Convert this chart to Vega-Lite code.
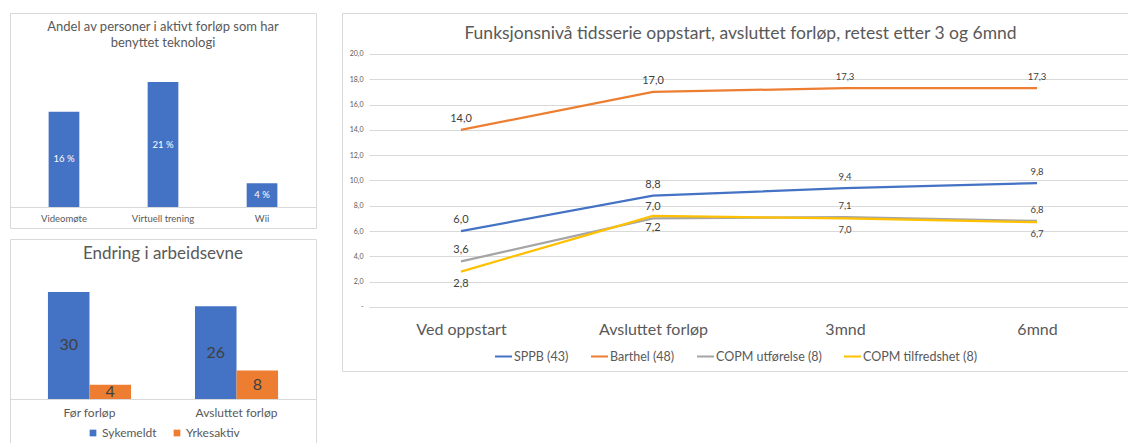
{
  "$schema": "https://vega.github.io/schema/vega-lite/v6.json",
  "padding": {"left": 9, "top": 12, "right": 0, "bottom": 0},
  "background": "white",
  "datasets": {
    "teknologi": [
      {"kategori": "Videomøte", "andel": 16},
      {"kategori": "Virtuell trening", "andel": 21},
      {"kategori": "Wii", "andel": 4}
    ],
    "arbeidsevne": [
      {"tid": "Før forløp", "status": "Sykemeldt", "antall": 30},
      {"tid": "Før forløp", "status": "Yrkesaktiv", "antall": 4},
      {"tid": "Avsluttet forløp", "status": "Sykemeldt", "antall": 26},
      {"tid": "Avsluttet forløp", "status": "Yrkesaktiv", "antall": 8}
    ],
    "funksjon": [
      {"serie": "SPPB (43)", "tid": "Ved oppstart", "verdi": 6.0},
      {"serie": "SPPB (43)", "tid": "Avsluttet forløp", "verdi": 8.8},
      {"serie": "SPPB (43)", "tid": "3mnd", "verdi": 9.4},
      {"serie": "SPPB (43)", "tid": "6mnd", "verdi": 9.8},
      {"serie": "Barthel (48)", "tid": "Ved oppstart", "verdi": 14.0},
      {"serie": "Barthel (48)", "tid": "Avsluttet forløp", "verdi": 17.0},
      {"serie": "Barthel (48)", "tid": "3mnd", "verdi": 17.3},
      {"serie": "Barthel (48)", "tid": "6mnd", "verdi": 17.3},
      {"serie": "COPM utførelse (8)", "tid": "Ved oppstart", "verdi": 3.6},
      {"serie": "COPM utførelse (8)", "tid": "Avsluttet forløp", "verdi": 7.0},
      {"serie": "COPM utførelse (8)", "tid": "3mnd", "verdi": 7.1},
      {"serie": "COPM utførelse (8)", "tid": "6mnd", "verdi": 6.8},
      {"serie": "COPM tilfredshet (8)", "tid": "Ved oppstart", "verdi": 2.8},
      {"serie": "COPM tilfredshet (8)", "tid": "Avsluttet forløp", "verdi": 7.2},
      {"serie": "COPM tilfredshet (8)", "tid": "3mnd", "verdi": 7.0},
      {"serie": "COPM tilfredshet (8)", "tid": "6mnd", "verdi": 6.7}
    ]
  },
  "config": {
    "font": "Lato",
    "locale": {"number": {"decimal": ",", "thousands": " ", "grouping": [3], "currency": ["", " kr"]}},
    "view": {"stroke": "#d9d9d9", "strokeWidth": 1},
    "title": {"color": "#595959", "fontWeight": "normal", "anchor": "middle", "font": "Lato"},
    "axis": {"labelColor": "#595959", "ticks": false, "domain": false, "grid": false, "title": null, "labelFont": "Lato"},
    "legend": {"layout": {"bottom": {"anchor": "middle"}}, "labelColor": "#595959", "labelFont": "Lato", "title": null}
  },
  "resolve": {"scale": {"color": "independent"}, "legend": {"color": "independent"}},
  "spacing": 24,
  "hconcat": [
    {
      "spacing": 9,
      "vconcat": [
        {
          "width": 306,
          "height": 215,
          "title": {"text": ["Andel av personer i aktivt forløp som har", "benyttet teknologi"], "fontSize": 13, "lineHeight": 16, "offset": -37},
          "data": {"name": "teknologi"},
          "transform": [
            {"calculate": "datum.andel / 2", "as": "midt"},
            {"calculate": "datum.andel + ' %'", "as": "etikett"}
          ],
          "encoding": {
            "x": {"field": "kategori", "type": "nominal", "sort": null,
              "scale": {"paddingInner": 0.69, "paddingOuter": 0.39},
              "axis": {"offset": -21, "domain": true, "domainColor": "#d9d9d9", "labelAngle": 0, "labelFontSize": 9.5, "labelPadding": 6}}
          },
          "layer": [
            {
              "mark": {"type": "bar", "color": "#4472C4"},
              "encoding": {
                "y": {"field": "andel", "type": "quantitative", "scale": {"domain": [-3.53, 32.6], "nice": false}, "axis": null}
              }
            },
            {
              "mark": {"type": "text", "color": "white", "fontSize": 9.5},
              "encoding": {
                "y": {"field": "midt", "type": "quantitative", "axis": null},
                "text": {"field": "etikett"}
              }
            }
          ]
        },
        {
          "width": 306,
          "height": 206,
          "title": {"text": "Endring i arbeidsevne", "fontSize": 17, "offset": -24},
          "data": {"name": "arbeidsevne"},
          "transform": [{"calculate": "datum.antall / 2", "as": "midt"}],
          "encoding": {
            "x": {"field": "tid", "type": "nominal", "sort": null,
              "scale": {"paddingInner": 0.435, "paddingOuter": 0.258},
              "axis": {"offset": -46, "domain": true, "domainColor": "#d9d9d9", "labelAngle": 0, "labelFontSize": 12, "labelPadding": 8}},
            "xOffset": {"field": "status", "type": "nominal", "sort": null, "scale": {"paddingInner": 0, "paddingOuter": 0}}
          },
          "layer": [
            {
              "mark": "bar",
              "encoding": {
                "y": {"field": "antall", "type": "quantitative", "scale": {"domain": [-12.9, 44.86], "nice": false}, "axis": null},
                "color": {"field": "status", "type": "nominal", "sort": null,
                  "scale": {"domain": ["Sykemeldt", "Yrkesaktiv"], "range": ["#4472C4", "#ED7D31"]},
                  "legend": {"orient": "bottom", "direction": "horizontal", "offset": -19, "symbolType": "square", "symbolSize": 45, "symbolStrokeWidth": 0, "labelFontSize": 12, "columnPadding": 14, "labelOffset": 3}}
              }
            },
            {
              "mark": {"type": "text", "fontSize": 16, "color": "#404040"},
              "encoding": {
                "y": {"field": "midt", "type": "quantitative", "axis": null},
                "text": {"field": "antall"}
              }
            }
          ]
        }
      ]
    },
    {
      "width": 787,
      "height": 358,
      "title": {"text": "Funksjonsnivå tidsserie oppstart, avsluttet forløp, retest etter 3 og 6mnd", "fontSize": 17.5, "offset": -29, "dx": 5},
      "data": {"name": "funksjon"},
      "encoding": {
        "x": {"field": "tid", "type": "ordinal", "sort": null,
          "scale": {"type": "point", "range": [27, 787], "padding": 0.479},
          "axis": {"offset": -64, "labelAngle": 0, "labelFontSize": 16, "labelPadding": 14}},
        "y": {"field": "verdi", "type": "quantitative",
          "scale": {"domain": [-5.06, 23.24], "nice": false},
          "axis": {"values": [0, 2, 4, 6, 8, 10, 12, 14, 16, 18, 20], "grid": true, "gridColor": "#d9d9d9", "offset": -27, "labelFontSize": 7, "labelPadding": 6, "format": ".1f", "labelExpr": "datum.value === 0 ? '-' : datum.label"}}
      },
      "layer": [
        {
          "mark": {"type": "line", "strokeWidth": 2.25},
          "encoding": {
            "color": {"field": "serie", "type": "nominal", "sort": null,
              "scale": {"domain": ["SPPB (43)", "Barthel (48)", "COPM utførelse (8)", "COPM tilfredshet (8)"], "range": ["#4472C4", "#ED7D31", "#A5A5A5", "#FFC000"]},
              "legend": {"orient": "bottom", "direction": "horizontal", "offset": -24, "symbolType": "stroke", "symbolSize": 289, "symbolStrokeWidth": 2, "labelFontSize": 12.5, "labelOffset": 1, "columnPadding": 18}}
          }
        },
        {
          "transform": [{"filter": "datum.serie !== 'COPM tilfredshet (8)'"}],
          "mark": {"type": "text", "dy": -11, "color": "#404040"},
          "encoding": {
            "text": {"field": "verdi", "type": "quantitative", "format": ".1f"},
            "size": {"condition": {"test": "datum.tid === 'Ved oppstart' || datum.tid === 'Avsluttet forløp'", "value": 11}, "value": 9.5}
          }
        },
        {
          "transform": [{"filter": "datum.serie === 'COPM tilfredshet (8)'"}],
          "mark": {"type": "text", "dy": 12, "color": "#404040"},
          "encoding": {
            "text": {"field": "verdi", "type": "quantitative", "format": ".1f"},
            "size": {"condition": {"test": "datum.tid === 'Ved oppstart' || datum.tid === 'Avsluttet forløp'", "value": 11}, "value": 9.5}
          }
        }
      ]
    }
  ]
}
